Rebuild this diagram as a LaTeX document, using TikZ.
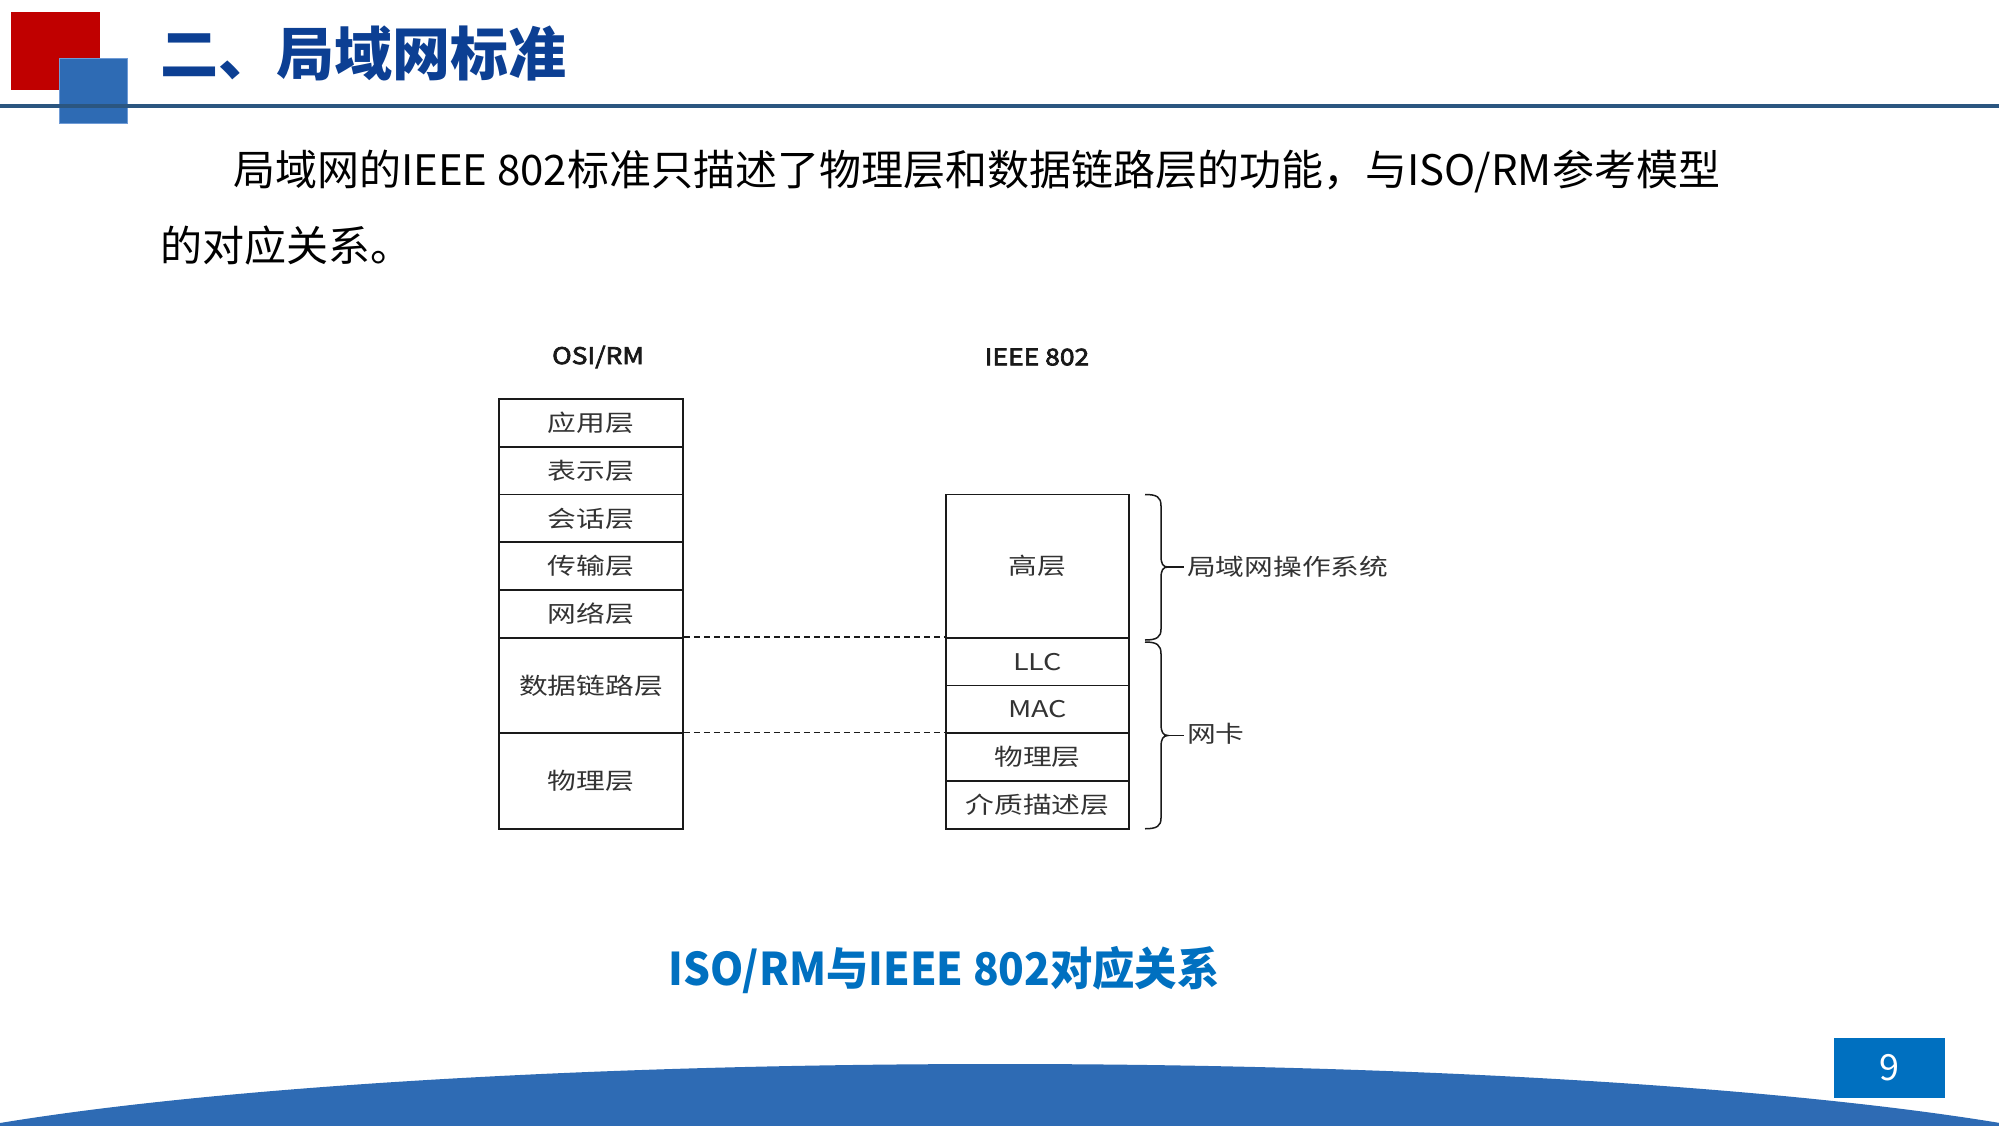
\documentclass[tikz,border=0pt]{standalone}
\usepackage{fontspec}
\newfontfamily\cjk{Noto Sans CJK SC}
\newfontfamily\capfont[FakeStretch=0.94]{Noto Sans CJK SC}
\newfontfamily\diag[FakeStretch=1.25]{Noto Sans CJK SC}
\newfontfamily\diaghead[FakeStretch=1.15, FakeBold=3]{Noto Sans CJK SC}
\definecolor{hdred}{HTML}{C00000}
\definecolor{hdblue}{HTML}{2E6BB4}
\definecolor{hdblueedge}{HTML}{6F9BD6}
\definecolor{hdline}{HTML}{2B5680}
\definecolor{titleblue}{HTML}{0C3F93}
\definecolor{capblue}{HTML}{0070C0}
\definecolor{cellline}{HTML}{1A1A1A}
\definecolor{celltext}{HTML}{333333}
\tikzset{
  cell/.style={draw=cellline, line width=1.7pt, inner sep=0pt, minimum width=184pt,
    font=\diag\fontsize{23}{27}\selectfont, text=celltext},
  colhead/.style={font=\diaghead\fontsize{23}{27}\selectfont, text=black!90},
  dashline/.style={draw=cellline, line width=1.3pt, dash pattern=on 6pt off 4pt},
  bracestyle/.style={draw=cellline, line width=1.5pt},
  bracelabel/.style={anchor=west, inner sep=0pt, font=\diag\fontsize{23}{27}\selectfont, text=celltext},
}
\begin{document}
\begin{tikzpicture}[x=1pt,y=-1pt]
\useasboundingbox (0,0) rectangle (1999,1125);
% header
\fill[white] (0,0) rectangle (1999,1125);
\fill[hdred] (11,12) rectangle (100,90);
\filldraw[fill=hdblue, draw=hdblueedge, line width=1pt] (59,58) rectangle (127,123);
\draw[hdline, line width=4pt] (0,106) -- (1999,106);
\node[anchor=west, inner sep=0pt, text=titleblue, font=\cjk\bfseries\fontsize{58}{64}\selectfont] (title) at (160,53) {二、局域网标准};
% body
\node[anchor=west, inner sep=0pt, font=\cjk\fontsize{42}{50}\selectfont] (line1) at (233,172) {局域网的IEEE 802标准只描述了物理层和数据链路层的功能，与ISO/RM参考模型};
\node[anchor=west, inner sep=0pt, font=\cjk\fontsize{42}{50}\selectfont] (line2) at (160,246) {的对应关系。};
% column headings
\node[colhead] (osihead) at (598,357) {OSI/RM};
\node[colhead] (ieeehead) at (1037,357) {IEEE 802};
% OSI table
\node[cell, minimum height=47.75pt] (app) at (591,422.875) {应用层};
\node[cell, minimum height=47.75pt] (pres) at (591,470.625) {表示层};
\node[cell, minimum height=47.75pt] (sess) at (591,518.375) {会话层};
\node[cell, minimum height=47.75pt] (trans) at (591,566.125) {传输层};
\node[cell, minimum height=47.75pt] (net) at (591,613.875) {网络层};
\node[cell, minimum height=95.5pt] (dl) at (591,685.5) {数据链路层};
\node[cell, minimum height=95.5pt] (phy) at (591,781) {物理层};
% IEEE table
\node[cell, minimum width=183pt, minimum height=143.25pt] (high) at (1037.5,566.125) {高层};
\node[cell, minimum width=183pt, minimum height=47.75pt] (llc) at (1037.5,661.625) {LLC};
\node[cell, minimum width=183pt, minimum height=47.75pt] (mac) at (1037.5,709.375) {MAC};
\node[cell, minimum width=183pt, minimum height=47.75pt] (iphy) at (1037.5,757.125) {物理层};
\node[cell, minimum width=183pt, minimum height=47.75pt] (medium) at (1037.5,804.875) {介质描述层};
% dashed correspondences
\draw[dashline] (dl.north east) -- (llc.north west);
\draw[dashline] (phy.north east) -- (iphy.north west);
% braces
\coordinate (b1tip) at (1168,567);
\coordinate (b1end) at (1184,567);
\draw[bracestyle] (1145,494.5) .. controls (1157,494.5) and (1161,497) .. (1161,506) -- (1161,556)
  .. controls (1161,564) and (1163,567) .. (b1tip)
  .. controls (1163,567) and (1161,570) .. (1161,578) -- (1161,629)
  .. controls (1161,637) and (1157,640) .. (1145,640);
\draw[bracestyle] (b1tip) -- (b1end);
\node[bracelabel] (oslabel) at (1187,567) {局域网操作系统};
\coordinate (b2tip) at (1168,735.5);
\coordinate (b2end) at (1184,735.5);
\draw[bracestyle] (1145,642) .. controls (1157,642) and (1161,645) .. (1161,654) -- (1161,724)
  .. controls (1161,732) and (1163,735.5) .. (b2tip)
  .. controls (1163,735.5) and (1161,739) .. (1161,747) -- (1161,818)
  .. controls (1161,826) and (1157,828.75) .. (1145,828.75);
\draw[bracestyle] (b2tip) -- (b2end);
\node[bracelabel] (niclabel) at (1187,734) {网卡};
% caption
\node[inner sep=0pt, text=capblue, font=\capfont\bfseries\fontsize{45}{52}\selectfont] (caption) at (944,970) {ISO/RM与IEEE 802对应关系};
% bottom arc
\begin{scope}
\clip (0,0) rectangle (1999,1125);
\fill[hdblue] (1000,1196) ellipse [x radius=1200pt, y radius=132pt];
\end{scope}
% page number
\fill[capblue] (1834,1038) rectangle (1945,1098);
\node[text=white, font=\cjk\fontsize{36}{40}\selectfont] (pagenum) at (1889.5,1068) {9};
\end{tikzpicture}
\end{document}
